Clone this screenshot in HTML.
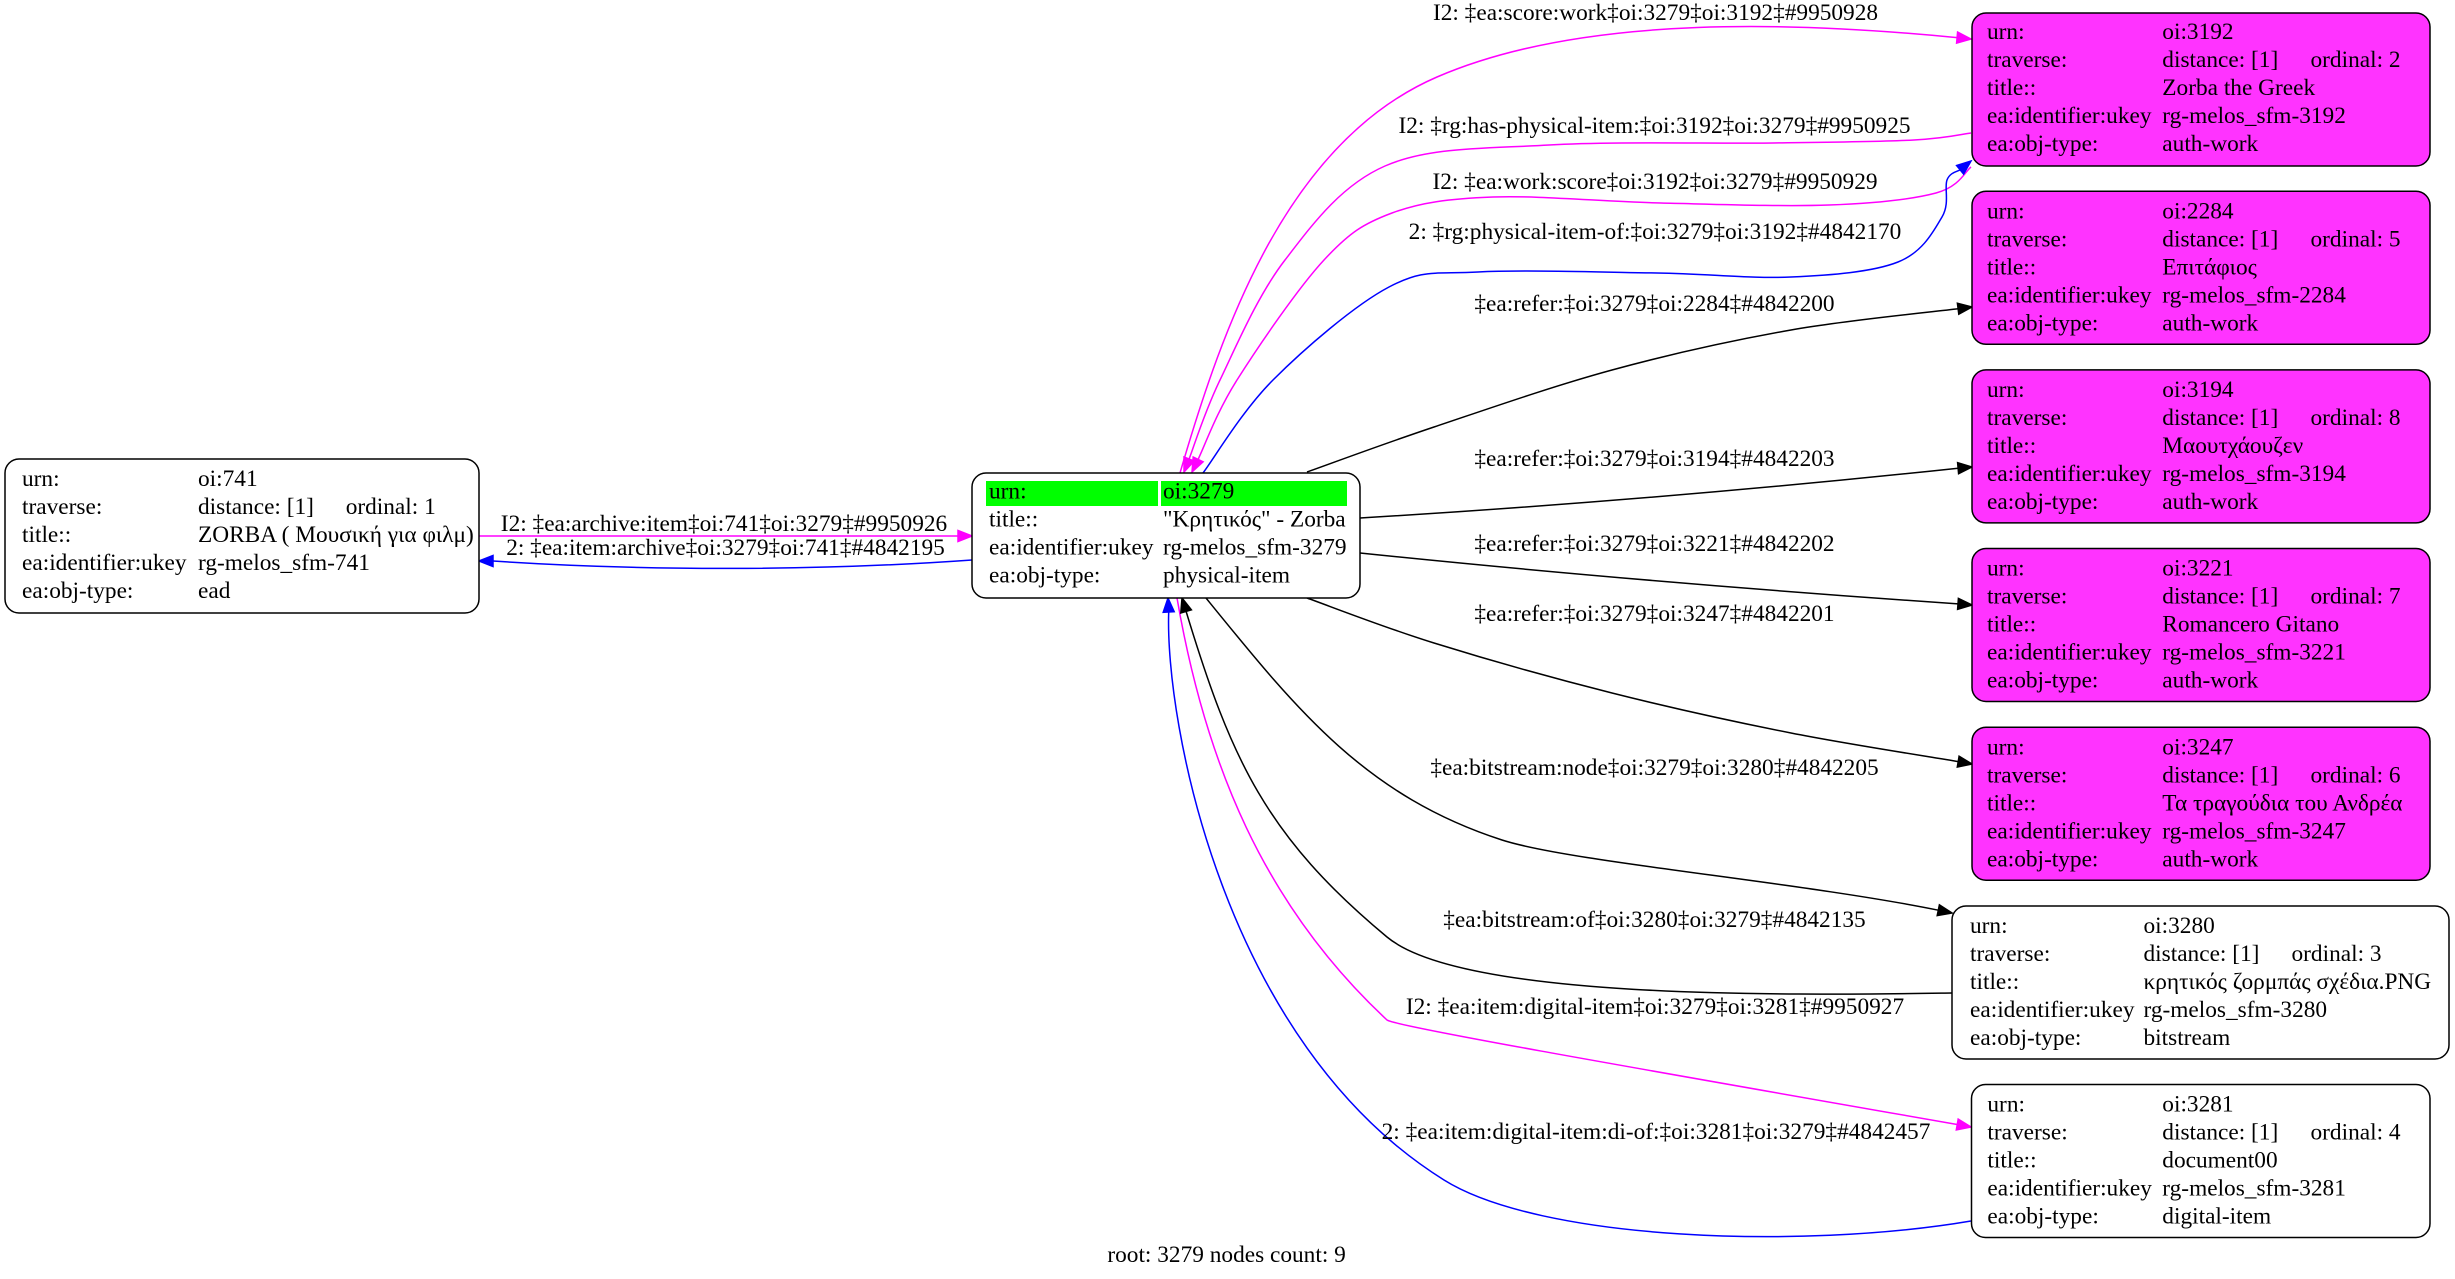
<!DOCTYPE html>
<html>
<head>
<meta charset="utf-8">
<style>
  html,body{margin:0;padding:0;background:#fff;}
  svg{display:block;}
  text{font-family:"Liberation Serif","DejaVu Serif",serif;font-size:23.33px;fill:#000;}
</style>
</head>
<body>
<svg width="2455" height="1279" viewBox="0 0 2455 1279" xmlns="http://www.w3.org/2000/svg">
<rect x="0" y="0" width="2455" height="1279" fill="#fff"/>

<!-- ============ EDGES ============ -->
<g fill="none" stroke-width="1.5">
  <!-- A: score:work 3279 -> 3192 (magenta) -->
  <path stroke="#ff00ff" d="M1180,473 C1223.1,324.8 1288,141.3 1437,77 C1587.2,12.1 1807.8,23 1957,37.6"/>
  <!-- B: has-physical-item 3192 -> 3279 (magenta) -->
  <path stroke="#ff00ff" d="M1971,133 C1961.5,134.2 1947,138.3 1914,140 C1881,141.7 1833.8,142.2 1773,143 C1712.2,143.8 1613.7,141.2 1549,145 C1484.3,148.8 1429,146.8 1385,166 C1341,185.2 1312.5,224.3 1285,260 C1257.5,295.7 1236,346.8 1220,380 C1204,413.2 1194.2,445.8 1189.1,459"/>
  <!-- C: work:score 3192 -> 3279 (magenta) -->
  <path stroke="#ff00ff" d="M1971,167 C1965.2,171.3 1959.7,186.7 1936,193 C1912.3,199.3 1874.8,203.3 1829,205 C1783.2,206.7 1717,204.3 1661,203 C1605,201.7 1537.8,195.3 1493,197 C1448.2,198.7 1420.2,202.5 1392,213 C1363.8,223.5 1349.8,232.2 1324,260 C1298.2,287.8 1258,346.8 1237,380 C1216,413.2 1204.6,446.2 1198.1,459.4"/>
  <!-- D: physical-item-of 3279 -> 3192 (blue) -->
  <path stroke="#0000ff" d="M1203,473 C1214.7,457.5 1242,411 1273,380 C1304,349 1354.8,305 1389,287 C1423.2,269 1433.3,274.3 1478,272 C1522.7,269.7 1604.8,272.2 1657,273 C1709.2,273.8 1750.8,278.8 1791,277 C1831.2,275.2 1872.8,272 1898,262 C1923.2,252 1933.8,230.7 1942,217 C1950.2,203.3 1944,187.9 1947,180 C1950,172.1 1957.9,171.5 1960.1,169.8"/>
  <!-- E: refer 2284 -->
  <path stroke="#000" d="M1307,472 C1328.2,464.5 1383.2,444 1434,427 C1484.8,410 1552.5,386.2 1612,370 C1671.5,353.8 1733.3,340.2 1791,330 C1848.7,319.8 1930.3,312.3 1958.1,308.8"/>
  <!-- F: refer 3194 -->
  <path stroke="#000" d="M1360,518 Q1660,500 1958.1,468.2"/>
  <!-- G: refer 3221 -->
  <path stroke="#000" d="M1360,553 Q1640,582 1958,603.9"/>
  <!-- H: refer 3247 -->
  <path stroke="#000" d="M1307,598 C1328.2,605.5 1383.2,627.2 1434,643 C1484.8,658.8 1552.5,678 1612,693 C1671.5,708 1733.3,721.6 1791,733 C1848.7,744.4 1930.4,756.8 1958.2,761.6"/>
  <!-- I: bitstream:node 3279 -> 3280 -->
  <path stroke="#000" d="M1206,598 C1296.8,709.8 1365,795.6 1502,840 C1570,862 1800,882 1938.3,910.2"/>
  <!-- J: bitstream:of 3280 -> 3279 -->
  <path stroke="#000" d="M1952,993 C1800,995 1464,1001 1387,937 C1266,836.4 1231.1,759.6 1186.1,611.4"/>
  <!-- K: digital-item 3279 -> 3281 (magenta) -->
  <path stroke="#ff00ff" d="M1177,598 C1205.4,762.5 1263.4,904.9 1387,1020 C1395,1026 1600,1062 1957.2,1124.5"/>
  <!-- L: di-of 3281 -> 3279 (blue) -->
  <path stroke="#0000ff" d="M1971,1221 C1800,1250 1540,1240 1444,1180 C1223,1042.2 1165,720 1168.7,612"/>
  <!-- M: archive:item 741 -> 3279 (magenta) -->
  <path stroke="#ff00ff" d="M479,536 L958,536"/>
  <!-- N: item:archive 3279 -> 741 (blue) -->
  <path stroke="#0000ff" d="M972,560 C820,571 640,571 493,561"/>
</g>

<!-- ============ ARROWHEADS ============ -->
<g stroke-width="1.5">
  <polygon fill="#ff00ff" stroke="#ff00ff" points="1971,39 1957.6,32.1 1956.6,43.1"/>
  <polygon fill="#ff00ff" stroke="#ff00ff" points="1184,472 1194.2,461 1184,457"/>
  <polygon fill="#ff00ff" stroke="#ff00ff" points="1192,472 1203.1,461.8 1193.2,457"/>
  <polygon fill="#0000ff" stroke="#0000ff" points="1971,161 1963.6,174.1 1956.6,165.5"/>
  <polygon fill="#000" stroke="#000" points="1972,307 1958.8,314.2 1957.4,303.3"/>
  <polygon fill="#000" stroke="#000" points="1972,467 1958.6,473.7 1957.6,462.7"/>
  <polygon fill="#000" stroke="#000" points="1972,605 1957.6,609.4 1958.4,598.4"/>
  <polygon fill="#000" stroke="#000" points="1972,764 1957.3,767 1959.1,756.2"/>
  <polygon fill="#000" stroke="#000" points="1952,913 1937.2,915.6 1939.4,904.8"/>
  <polygon fill="#000" stroke="#000" points="1182,598 1191.4,609.8 1180.8,613"/>
  <polygon fill="#ff00ff" stroke="#ff00ff" points="1971,1127 1956.3,1129.9 1958.2,1119.1"/>
  <polygon fill="#0000ff" stroke="#0000ff" points="1168,598 1174.2,611.7 1163.2,612.3"/>
  <polygon fill="#ff00ff" stroke="#ff00ff" points="972,536 958,530.5 958,541.5"/>
  <polygon fill="#0000ff" stroke="#0000ff" points="479,561 493,555.5 493,566.5"/>
</g>

<!-- ============ EDGE LABELS ============ -->
<g text-anchor="middle">
  <text x="724" y="531">I2: ‡ea:archive:item‡oi:741‡oi:3279‡#9950926</text>
  <text x="725.5" y="555">2: ‡ea:item:archive‡oi:3279‡oi:741‡#4842195</text>
  <text x="1655.5" y="20">I2: ‡ea:score:work‡oi:3279‡oi:3192‡#9950928</text>
  <text x="1654.5" y="133">I2: ‡rg:has-physical-item:‡oi:3192‡oi:3279‡#9950925</text>
  <text x="1655" y="189">I2: ‡ea:work:score‡oi:3192‡oi:3279‡#9950929</text>
  <text x="1655" y="239">2: ‡rg:physical-item-of:‡oi:3279‡oi:3192‡#4842170</text>
  <text x="1654.5" y="311">‡ea:refer:‡oi:3279‡oi:2284‡#4842200</text>
  <text x="1654.5" y="466">‡ea:refer:‡oi:3279‡oi:3194‡#4842203</text>
  <text x="1654.5" y="551">‡ea:refer:‡oi:3279‡oi:3221‡#4842202</text>
  <text x="1654.5" y="621">‡ea:refer:‡oi:3279‡oi:3247‡#4842201</text>
  <text x="1654.5" y="775">‡ea:bitstream:node‡oi:3279‡oi:3280‡#4842205</text>
  <text x="1654.5" y="927">‡ea:bitstream:of‡oi:3280‡oi:3279‡#4842135</text>
  <text x="1655" y="1014">I2: ‡ea:item:digital-item‡oi:3279‡oi:3281‡#9950927</text>
  <text x="1656" y="1139">2: ‡ea:item:digital-item:di-of:‡oi:3281‡oi:3279‡#4842457</text>
  <text x="1226.6" y="1262">root: 3279 nodes count: 9</text>
</g>

<!-- ============ NODES ============ -->
<!-- 741 -->
<g>
  <rect x="5" y="459" width="474" height="154" rx="14" ry="14" fill="#fff" stroke="#000" stroke-width="1.5"/>
  <text x="22" y="486">urn:</text><text x="198" y="486">oi:741</text>
  <text x="22" y="514">traverse:</text><text x="198" y="514">distance: [1]</text><text x="345.7" y="514">ordinal: 1</text>
  <text x="22" y="542">title::</text><text x="198" y="542">ZORBA ( Μουσική για φιλμ)</text>
  <text x="22" y="570">ea:identifier:ukey</text><text x="198" y="570">rg-melos_sfm-741</text>
  <text x="22" y="598">ea:obj-type:</text><text x="198" y="598">ead</text>
</g>

<!-- 3279 (root) -->
<g>
  <rect x="972" y="473" width="388" height="125" rx="14" ry="14" fill="#fff" stroke="#000" stroke-width="1.5"/>
  <rect x="986" y="481" width="172" height="25" fill="#00ff00"/>
  <rect x="1161" y="481" width="186" height="25" fill="#00ff00"/>
  <text x="989" y="498.3">urn:</text><text x="1163" y="498.3">oi:3279</text>
  <text x="989" y="526.7">title::</text><text x="1163" y="526.7">"Κρητικός" - Zorba</text>
  <text x="989" y="554.3">ea:identifier:ukey</text><text x="1163" y="554.3">rg-melos_sfm-3279</text>
  <text x="989" y="582.3">ea:obj-type:</text><text x="1163" y="582.3">physical-item</text>
</g>

<!-- 3192 -->
<g>
  <rect x="1972" y="13" width="458" height="153" rx="14" ry="14" fill="#ff33ff" stroke="#000" stroke-width="1.5"/>
  <text x="1987" y="39">urn:</text><text x="2162.3" y="39">oi:3192</text>
  <text x="1987" y="67">traverse:</text><text x="2162.3" y="67">distance: [1]</text><text x="2310.5" y="67">ordinal: 2</text>
  <text x="1987" y="95">title::</text><text x="2162.3" y="95">Zorba the Greek</text>
  <text x="1987" y="123">ea:identifier:ukey</text><text x="2162.3" y="123">rg-melos_sfm-3192</text>
  <text x="1987" y="151">ea:obj-type:</text><text x="2162.3" y="151">auth-work</text>
</g>

<!-- 2284 -->
<g>
  <rect x="1972" y="191.3" width="458" height="153" rx="14" ry="14" fill="#ff33ff" stroke="#000" stroke-width="1.5"/>
  <text x="1987" y="218.3">urn:</text><text x="2162.3" y="218.3">oi:2284</text>
  <text x="1987" y="246.3">traverse:</text><text x="2162.3" y="246.3">distance: [1]</text><text x="2310.5" y="246.3">ordinal: 5</text>
  <text x="1987" y="274.3">title::</text><text x="2162.3" y="274.3">Επιτάφιος</text>
  <text x="1987" y="302.3">ea:identifier:ukey</text><text x="2162.3" y="302.3">rg-melos_sfm-2284</text>
  <text x="1987" y="330.3">ea:obj-type:</text><text x="2162.3" y="330.3">auth-work</text>
</g>

<!-- 3194 -->
<g>
  <rect x="1972" y="369.9" width="458" height="153" rx="14" ry="14" fill="#ff33ff" stroke="#000" stroke-width="1.5"/>
  <text x="1987" y="396.9">urn:</text><text x="2162.3" y="396.9">oi:3194</text>
  <text x="1987" y="424.9">traverse:</text><text x="2162.3" y="424.9">distance: [1]</text><text x="2310.5" y="424.9">ordinal: 8</text>
  <text x="1987" y="452.9">title::</text><text x="2162.3" y="452.9">Μαουτχάουζεν</text>
  <text x="1987" y="480.9">ea:identifier:ukey</text><text x="2162.3" y="480.9">rg-melos_sfm-3194</text>
  <text x="1987" y="508.9">ea:obj-type:</text><text x="2162.3" y="508.9">auth-work</text>
</g>

<!-- 3221 -->
<g>
  <rect x="1972" y="548.5" width="458" height="153" rx="14" ry="14" fill="#ff33ff" stroke="#000" stroke-width="1.5"/>
  <text x="1987" y="575.5">urn:</text><text x="2162.3" y="575.5">oi:3221</text>
  <text x="1987" y="603.5">traverse:</text><text x="2162.3" y="603.5">distance: [1]</text><text x="2310.5" y="603.5">ordinal: 7</text>
  <text x="1987" y="631.5">title::</text><text x="2162.3" y="631.5">Romancero Gitano</text>
  <text x="1987" y="659.5">ea:identifier:ukey</text><text x="2162.3" y="659.5">rg-melos_sfm-3221</text>
  <text x="1987" y="687.5">ea:obj-type:</text><text x="2162.3" y="687.5">auth-work</text>
</g>

<!-- 3247 -->
<g>
  <rect x="1972" y="727.2" width="458" height="153" rx="14" ry="14" fill="#ff33ff" stroke="#000" stroke-width="1.5"/>
  <text x="1987" y="754.3">urn:</text><text x="2162.3" y="754.3">oi:3247</text>
  <text x="1987" y="782.3">traverse:</text><text x="2162.3" y="782.3">distance: [1]</text><text x="2310.5" y="782.3">ordinal: 6</text>
  <text x="1987" y="810.3">title::</text><text x="2162.3" y="810.3">Τα τραγούδια του Ανδρέα</text>
  <text x="1987" y="838.3">ea:identifier:ukey</text><text x="2162.3" y="838.3">rg-melos_sfm-3247</text>
  <text x="1987" y="866.3">ea:obj-type:</text><text x="2162.3" y="866.3">auth-work</text>
</g>

<!-- 3280 -->
<g>
  <rect x="1952" y="906" width="497" height="153" rx="14" ry="14" fill="#fff" stroke="#000" stroke-width="1.5"/>
  <text x="1970" y="933">urn:</text><text x="2143.5" y="933">oi:3280</text>
  <text x="1970" y="961">traverse:</text><text x="2143.5" y="961">distance: [1]</text><text x="2291.5" y="961">ordinal: 3</text>
  <text x="1970" y="989">title::</text><text x="2143.5" y="989">κρητικός ζορμπάς σχέδια.PNG</text>
  <text x="1970" y="1017">ea:identifier:ukey</text><text x="2143.5" y="1017">rg-melos_sfm-3280</text>
  <text x="1970" y="1045">ea:obj-type:</text><text x="2143.5" y="1045">bitstream</text>
</g>

<!-- 3281 -->
<g>
  <rect x="1971.5" y="1084.5" width="458.5" height="153" rx="14" ry="14" fill="#fff" stroke="#000" stroke-width="1.5"/>
  <text x="1987.4" y="1111.5">urn:</text><text x="2162.3" y="1111.5">oi:3281</text>
  <text x="1987.4" y="1139.5">traverse:</text><text x="2162.3" y="1139.5">distance: [1]</text><text x="2310.5" y="1139.5">ordinal: 4</text>
  <text x="1987.4" y="1167.5">title::</text><text x="2162.3" y="1167.5">document00</text>
  <text x="1987.4" y="1195.5">ea:identifier:ukey</text><text x="2162.3" y="1195.5">rg-melos_sfm-3281</text>
  <text x="1987.4" y="1223.5">ea:obj-type:</text><text x="2162.3" y="1223.5">digital-item</text>
</g>

</svg>
</body>
</html>
